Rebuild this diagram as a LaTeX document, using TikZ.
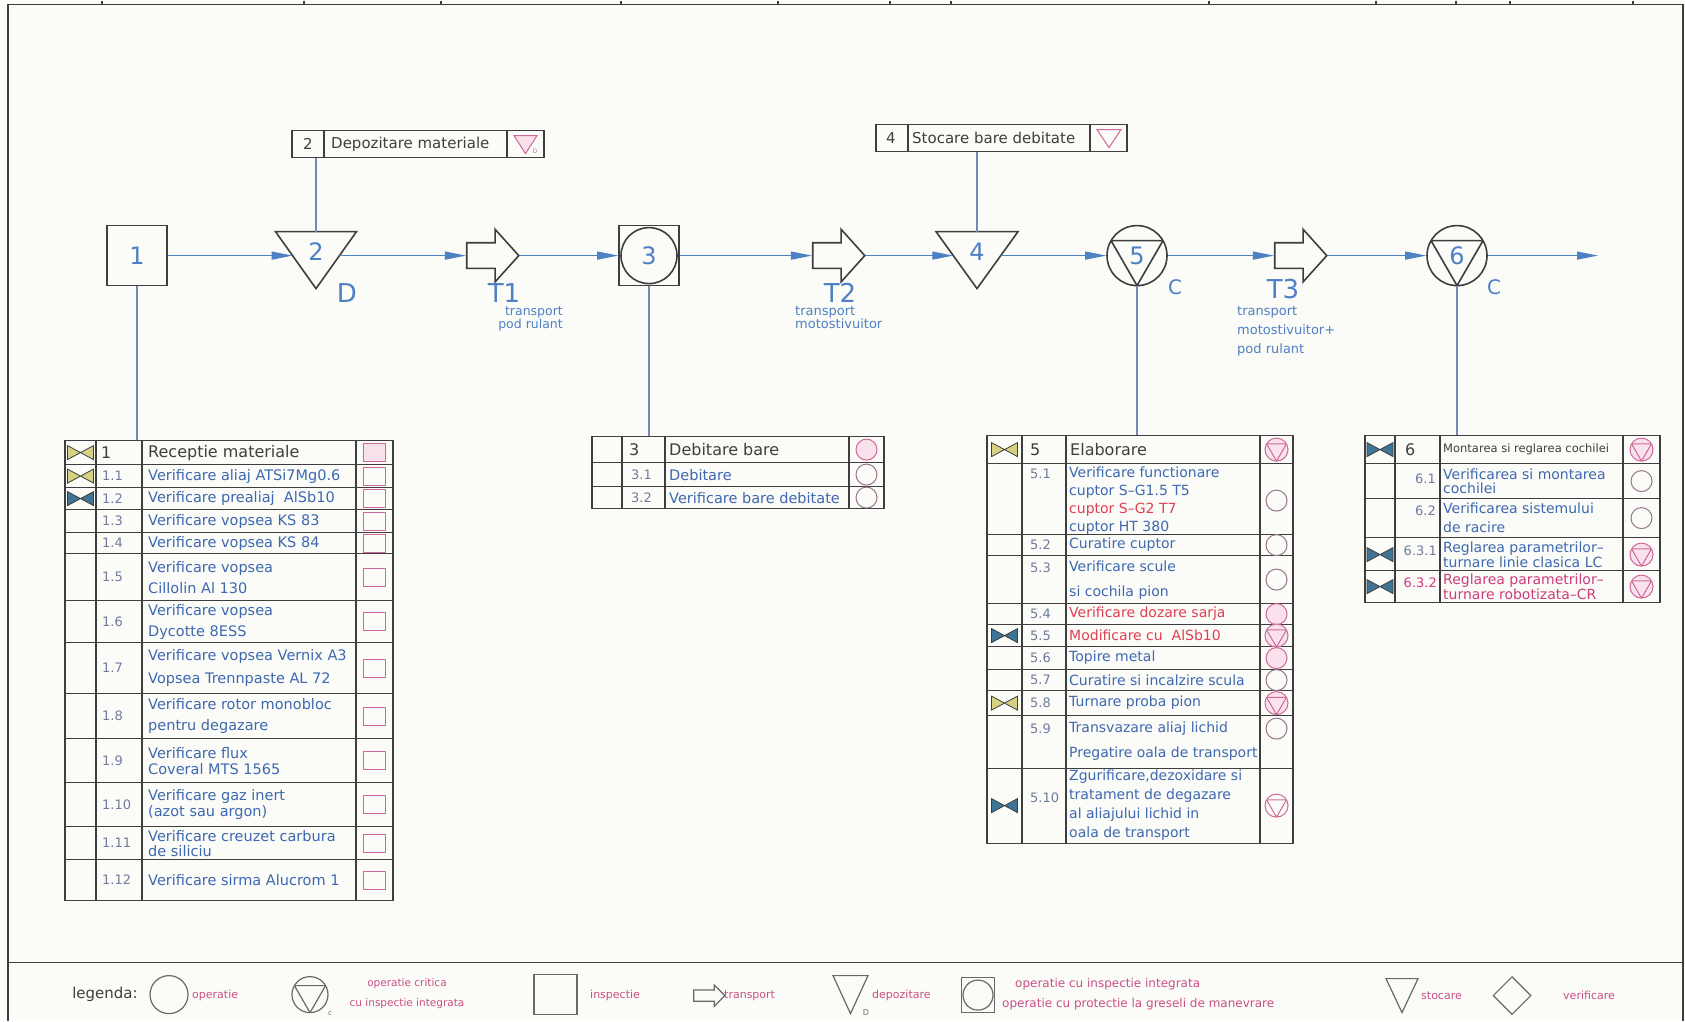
\documentclass[tikz,border=0pt]{standalone}
\usepackage{fontspec}
\setmainfont{DejaVu Sans}
\usepackage{tikz}
\usetikzlibrary{arrows.meta, positioning, shapes.geometric, shapes.arrows}
\usepackage{xcolor}

\definecolor{paper}{RGB}{251,251,248}
\definecolor{ink}{RGB}{62,62,62}
\definecolor{flowblue}{RGB}{78,128,196}
\definecolor{linkblue}{RGB}{112,138,176}
\definecolor{rowblue}{RGB}{62,104,176}
\definecolor{numgray}{RGB}{112,124,158}
\definecolor{symcol}{RGB}{205,105,155}
\definecolor{symgray}{RGB}{150,120,140}
\definecolor{sympink}{RGB}{250,226,236}
\definecolor{redtxt}{RGB}{225,62,82}
\definecolor{magtxt}{RGB}{205,60,125}
\definecolor{legpink}{RGB}{200,80,135}
\definecolor{leggray}{RGB}{105,105,105}
\definecolor{tieyellow}{RGB}{214,210,132}
\definecolor{tieblue}{RGB}{62,116,150}

\newcommand\fsz[1]{\fontsize{#1}{#1}\selectfont}

\begin{document}
\begin{tikzpicture}[x=1pt, y=-1pt,
    shp/.style    = {draw=ink, line width=1.6pt},
    sheet/.style  = {draw=ink, line width=1.2pt},
    flow/.style   = {draw=flowblue, line width=1.3pt, -{Triangle[length=21pt, width=8pt]}},
    link/.style   = {draw=linkblue, line width=1.1pt},
    tab/.style    = {draw=ink, line width=1.1pt},
    opbox/.style  = {shp, rectangle, minimum size=60pt, inner sep=0pt, text=flowblue, font=\fsz{24}},
    critc/.style 2 args = {circle, draw=#2, inner sep=0pt, minimum size=2*#1,
      path picture={\draw[draw=#2] ([shift={(150:#1)}]path picture bounding box.center)
        -- ([shift={(30:#1)}]path picture bounding box.center)
        -- ([shift={(-90:#1)}]path picture bounding box.center) -- cycle;}},
    tarrow/.style = {shp, single arrow, minimum height=52pt, minimum width=51pt,
      single arrow head extend=13.5pt, single arrow tip angle=96, inner xsep=0pt, inner ysep=12pt},
    fnum/.style   = {text=flowblue, font=\fsz{24}},
    tlbl/.style   = {text=flowblue, font=\fsz{26}},
    clbl/.style   = {text=flowblue, font=\fsz{20}},
    capt/.style   = {text=flowblue, inner sep=0pt},
    hd/.style     = {anchor=west, text=ink, font=\fsz{16}, inner sep=0pt},
    num/.style    = {anchor=west, text=numgray, font=\fsz{13}, inner sep=0pt},
    rowf/.style 2 args = {anchor=west, align=left, text=rowblue, inner sep=0pt, font=\fontsize{#1}{#2}\selectfont},
    row/.style    = {rowf={14.5}{#1}}, row/.default=18,
    rowv/.style   = {rowf={14}{#1}}, rowv/.default=18,
    rowvi/.style  = {rowf={14}{#1}}, rowvi/.default=14,
    opsym/.style  = {circle, draw=symgray, line width=1pt, minimum size=21pt, inner sep=0pt},
    insym/.style  = {rectangle, draw=symcol, line width=1pt, minimum width=22pt, minimum height=18pt, inner sep=0pt},
    crsym/.style  = {critc={11.5pt}{symcol}, line width=1pt},
    leg/.style    = {anchor=west, text=legpink, font=\fsz{11}, inner sep=0pt},
    legsym/.style = {draw=leggray, line width=1.2pt, inner sep=0pt},
    pics/tie/.style = {code={\path[pic actions] (-13,-7) -- (13,7) -- (13,-7) -- (-13,7) -- cycle;}}
  ]
  % sheet frame
  \fill[paper] (0,0) rectangle (1685,1020);
  \draw[sheet] (8,1020) -- (8,4) -- (1683,4) -- (1683,1020);
  \draw[sheet] (8,962) -- (1683,962);
  \foreach \x in {102,304,441,621,778,890,951,1209,1376,1456,1510,1633}
    \draw[sheet] (\x,0) -- (\x,4);

  % flow line (y = 255)
  \node[opbox] (op1) at (137,255) {1};
  \draw[shp] (275.5,231) -- (356.5,231) -- (316,288) -- cycle;
  \node[fnum] (dep2) at (316,251) {2};
  \coordinate (dep2w)   at (292.6,255);
  \coordinate (dep2e)   at (339.4,255);
  \coordinate (dep2top) at (316,231);
  \node[tlbl] (dep2d) at (347,292) {D};
  \node[tarrow] (tr1) at (487,255) {};
  \node[tlbl] (tr1lbl) at (504,292) {T1};
  \node[capt, align=right, anchor=east, font=\fontsize{12.5}{11.5}\selectfont] (tr1cap) at (563,318) {transport\\pod rulant};
  \node[opbox] (op3) at (649,255) {3};
  \draw[shp] (op3.center) circle[radius=28pt];
  \node[tarrow] (tr2) at (833,255) {};
  \node[tlbl] (tr2lbl) at (840,292) {T2};
  \node[capt, align=left, anchor=west, font=\fontsize{13}{12}\selectfont] (tr2cap) at (795,317) {transport\\motostivuitor};
  \draw[shp] (936,231) -- (1018,231) -- (977,288) -- cycle;
  \node[fnum] (sto4) at (977,251) {4};
  \coordinate (sto4w)   at (953.3,255);
  \coordinate (sto4e)   at (1000.7,255);
  \coordinate (sto4top) at (977,231);
  \node[critc={30pt}{ink}, line width=1.6pt, fnum] (op5) at (1137,255) {5};
  \node[clbl] (op5c) at (1175,287) {C};
  \node[tarrow] (tr3) at (1295,255) {};
  \node[tlbl] (tr3lbl) at (1283,288) {T3};
  \node[capt, align=left, anchor=west, font=\fontsize{13}{19}\selectfont] (tr3cap) at (1237,331) {transport\\motostivuitor+\\pod rulant};
  \node[critc={30pt}{ink}, line width=1.6pt, fnum] (op6) at (1457,255) {6};
  \node[clbl] (op6c) at (1494,287) {C};
  \coordinate (out) at (1598,255);

  \draw[flow] (op1) -- (dep2w);
  \draw[flow] (dep2e) -- (tr1.tail);
  \draw[flow] (tr1.tip) -- (op3);
  \draw[flow] (op3) -- (tr2.tail);
  \draw[flow] (tr2.tip) -- (sto4w);
  \draw[flow] (sto4e) -- (op5);
  \draw[flow] (op5) -- (tr3.tail);
  \draw[flow] (tr3.tip) -- (op6);
  \draw[flow] (op6) -- (out);

  % label boxes above the storage points
  \node[draw=ink, line width=1.1pt, minimum width=252pt, minimum height=27pt, inner sep=0pt] (lbl2) at (418,143.5) {};
  \draw[tab] (324,130) -- (324,157);
  \draw[tab] (507,130) -- (507,157);
  \node[hd, font=\fsz{15}] at (303,143.5) {2};
  \node[hd, font=\fsz{15}] at (331,143.5) {Depozitare materiale};
  \draw[symcol, fill=sympink, line width=1pt] (514,135) -- (537,135) -- (525.5,153) -- cycle;
  \node[text=symcol, font=\fsz{6}, inner sep=0pt] at (535,151) {D};
  \draw[link] (dep2top |- lbl2.south) -- (dep2top);

  \node[draw=ink, line width=1.1pt, minimum width=251pt, minimum height=27pt, inner sep=0pt] (lbl4) at (1001.5,137.5) {};
  \draw[tab] (908,124) -- (908,151);
  \draw[tab] (1090,124) -- (1090,151);
  \node[hd, font=\fsz{15}] at (886,137.5) {4};
  \node[hd, font=\fsz{15}] at (912,137.5) {Stocare bare debitate};
  \draw[symcol, line width=1pt] (1097,129) -- (1121,129) -- (1109,147) -- cycle;
  \draw[link] (sto4top |- lbl4.south) -- (sto4top);

  % table 1: receptie materiale
  \coordinate (tab1) at (137,440);
  \draw[link] (op1) -- (tab1);
  \draw[tab] (65,440) rectangle (393,900);
  \foreach \y in {464,487,509,532,553,600,642,693,738,782,826,859}
    \draw[tab] (65,\y) -- (393,\y);
  \foreach \x in {96,142,356}
    \draw[tab] (\x,440) -- (\x,900);
  \pic[fill=tieyellow, draw=ink, line width=0.8pt] at (80.5,452) {tie};
  \pic[fill=tieyellow, draw=ink, line width=0.8pt] at (80.5,475.5) {tie};
  \pic[fill=tieblue, draw=ink, line width=0.8pt] at (80.5,498) {tie};
  \node[hd] at (101,452) {1};
  \node[hd] at (148,452) {Receptie materiale};
  \node[insym, fill=sympink] at (374.5,452) {};
  \foreach \y/\nr/\ls/\tx in {
      475.5/1.1/16/{Verificare aliaj ATSi7Mg0.6},
      498/1.2/16/{Verificare prealiaj\ \ AlSb10},
      520.5/1.3/16/{Verificare vopsea KS 83},
      542.5/1.4/16/{Verificare vopsea KS 84},
      576.5/1.5/21/{Verificare vopsea\\ Cillolin Al 130},
      621/1.6/21/{Verificare vopsea\\ Dycotte 8ESS},
      667.5/1.7/23/{Verificare vopsea Vernix A3\\Vopsea Trennpaste AL 72},
      715.5/1.8/21/{Verificare rotor monobloc\\pentru degazare},
      760/1.9/16/{Verificare flux\\ Coveral MTS 1565},
      804/1.10/16/{Verificare gaz inert\\(azot sau argon)},
      842.5/1.11/15/{Verificare creuzet carbura\\de siliciu},
      879.5/1.12/16/{Verificare sirma Alucrom 1}} {
    \node[num] at (102,\y) {\nr};
    \node[row=\ls] at (148,\y) {\tx};
    \node[insym] at (374.5,\y) {};
  }

  % table 3: debitare bare
  \coordinate (tab3) at (649,436);
  \draw[link] (op3) -- (tab3);
  \draw[tab] (592,436) rectangle (884,508);
  \foreach \y in {462,486}
    \draw[tab] (592,\y) -- (884,\y);
  \foreach \x in {622,665,849}
    \draw[tab] (\x,436) -- (\x,508);
  \node[hd] at (629,449) {3};
  \node[hd] at (669,449) {Debitare bare};
  \node[num] at (631,474) {3.1};
  \node[row] at (669,474) {Debitare};
  \node[num] at (631,497) {3.2};
  \node[row] at (669,497) {Verificare bare debitate};
  \node[opsym, draw=symcol, fill=sympink] at (866.5,449) {};
  \node[opsym] at (866.5,474) {};
  \node[opsym] at (866.5,497) {};

  % table 5: elaborare
  \coordinate (tab5) at (1137,435);
  \draw[link] (op5) -- (tab5);
  \draw[tab] (987,435) rectangle (1293,843);
  \foreach \y in {463,534,555,603,624,646,669,690,715,768}
    \draw[tab] (987,\y) -- (1293,\y);
  \foreach \x in {1022,1066,1260}
    \draw[tab] (\x,435) -- (\x,843);
  \pic[fill=tieyellow, draw=ink, line width=0.8pt] at (1004.5,449) {tie};
  \pic[fill=tieblue, draw=ink, line width=0.8pt] at (1004.5,635) {tie};
  \pic[fill=tieyellow, draw=ink, line width=0.8pt] at (1004.5,702.5) {tie};
  \pic[fill=tieblue, draw=ink, line width=0.8pt] at (1004.5,805) {tie};
  \node[hd] at (1030,449) {5};
  \node[hd] at (1070,449) {Elaborare};
  \foreach \y/\nr in {473/5.1, 544.5/5.2, 567/5.3, 613.5/5.4, 635/5.5, 657.5/5.6,
      679.5/5.7, 702.5/5.8, 728/5.9, 797/5.10}
    \node[num] at (1030,\y) {\nr};
  \node[rowv=18] at (1069,500) {Verificare functionare\\cuptor S--G1.5 T5\\{\color{redtxt}cuptor S--G2 T7}\\cuptor HT 380};
  \node[rowv] at (1069,544.5) {Curatire cuptor};
  \node[rowv=25] at (1069,579.5) {Verificare scule\\si cochila pion};
  \node[rowv, text=redtxt] at (1069,613.5) {Verificare dozare sarja};
  \node[rowv, text=redtxt] at (1069,635) {Modificare cu\ \ AlSb10};
  \node[rowv] at (1069,657.5) {Topire metal};
  \node[rowv] at (1069,679.5) {Curatire si incalzire scula};
  \node[rowv] at (1069,702.5) {Turnare proba pion};
  \node[rowv=25] at (1069,740.5) {Transvazare aliaj lichid\\Pregatire oala de transport};
  \node[rowv=19] at (1069,805) {Zgurificare,dezoxidare si\\tratament de degazare\\al aliajului lichid in\\oala de transport};
  \node[crsym, fill=sympink] at (1276.5,449) {};
  \node[opsym] at (1276.5,500) {};
  \node[opsym] at (1276.5,544.5) {};
  \node[opsym] at (1276.5,579) {};
  \node[opsym, draw=symcol, fill=sympink] at (1276.5,613.5) {};
  \node[crsym, fill=sympink] at (1276.5,635) {};
  \node[opsym, draw=symcol, fill=sympink] at (1276.5,657.5) {};
  \node[opsym] at (1276.5,679.5) {};
  \node[crsym, fill=sympink] at (1276.5,702.5) {};
  \node[opsym] at (1276.5,728) {};
  \node[crsym] at (1276.5,805) {};

  % table 6: montarea si reglarea cochilei
  \coordinate (tab6) at (1457,435);
  \draw[link] (op6) -- (tab6);
  \draw[tab] (1365,435) rectangle (1660,602);
  \foreach \y in {463,498,537,570}
    \draw[tab] (1365,\y) -- (1660,\y);
  \foreach \x in {1395,1440,1623}
    \draw[tab] (\x,435) -- (\x,602);
  \pic[fill=tieblue, draw=ink, line width=0.8pt] at (1380,449) {tie};
  \pic[fill=tieblue, draw=ink, line width=0.8pt] at (1380,554) {tie};
  \pic[fill=tieblue, draw=ink, line width=0.8pt] at (1380,586) {tie};
  \node[hd] at (1405,449) {6};
  \node[hd, font=\fsz{11.5}] at (1443,449) {Montarea si reglarea cochilei};
  \node[num, anchor=east] at (1436,478) {6.1};
  \node[rowvi=14] at (1443,480.5) {Verificarea si montarea\\cochilei};
  \node[num, anchor=east] at (1436,510) {6.2};
  \node[rowvi=19] at (1443,517.5) {Verificarea sistemului\\de racire};
  \node[num, anchor=east] at (1437,550) {6.3.1};
  \node[rowvi=13.5] at (1443,554) {Reglarea parametrilor--\\turnare linie clasica LC};
  \node[num, anchor=east, text=magtxt] at (1437,582) {6.3.2};
  \node[rowvi=13.5, text=magtxt] at (1443,586) {Reglarea parametrilor--\\turnare robotizata--CR};
  \node[crsym, fill=sympink] at (1641.5,449) {};
  \node[opsym] at (1641.5,480.5) {};
  \node[opsym] at (1641.5,517.5) {};
  \node[crsym, fill=sympink] at (1641.5,554) {};
  \node[crsym, fill=sympink] at (1641.5,586) {};

  % legend
  \node[text=ink, font=\fsz{15}] (legt) at (105,994) {legenda:};
  \node[legsym, circle, minimum size=38pt] (lg1) at (169,994) {};
  \node[leg] at (192,995) {operatie};
  \node[legsym, critc={18pt}{leggray}] (lg2) at (310,994) {};
  \node[text=leggray, font=\fsz{7}, inner sep=0pt] at (330,1013) {c};
  \node[leg, anchor=center, align=center, font=\fontsize{10.5}{20}\selectfont] at (407,993) {operatie critica\\cu inspectie integrata};
  \node[legsym, minimum width=43pt, minimum height=40pt] (lg3) at (555.5,994) {};
  \node[leg] at (590,995) {inspectie};
  \node[legsym, single arrow, minimum height=31pt, minimum width=20pt,
    single arrow head extend=5pt, inner xsep=0pt, inner ysep=5pt] (lg4) at (706.5,995) {};
  \node[leg] at (724,995) {transport};
  \draw[draw=leggray, line width=1.2pt] (833,975) -- (868,975) -- (850.5,1013) -- cycle;
  \node[text=leggray, font=\fsz{8}, inner sep=0pt] at (866,1012) {D};
  \node[leg] at (872,995) {depozitare};
  \node[legsym, minimum width=33pt, minimum height=35pt] (lg6) at (978,994.5) {};
  \draw[draw=leggray, line width=1.2pt] (lg6.center) circle[radius=15pt];
  \node[leg, font=\fsz{12}] at (1015,984) {operatie cu inspectie integrata};
  \node[leg, font=\fsz{12}] at (1002,1004) {operatie cu protectie la greseli de manevrare};
  \draw[draw=leggray, line width=1.2pt] (1386,978) -- (1418,978) -- (1402,1012) -- cycle;
  \node[leg] at (1421,995) {stocare};
  \node[legsym, diamond, minimum width=38pt, minimum height=38pt] (lg8) at (1512,995) {};
  \node[leg] at (1563,995) {verificare};
\end{tikzpicture}
\end{document}
